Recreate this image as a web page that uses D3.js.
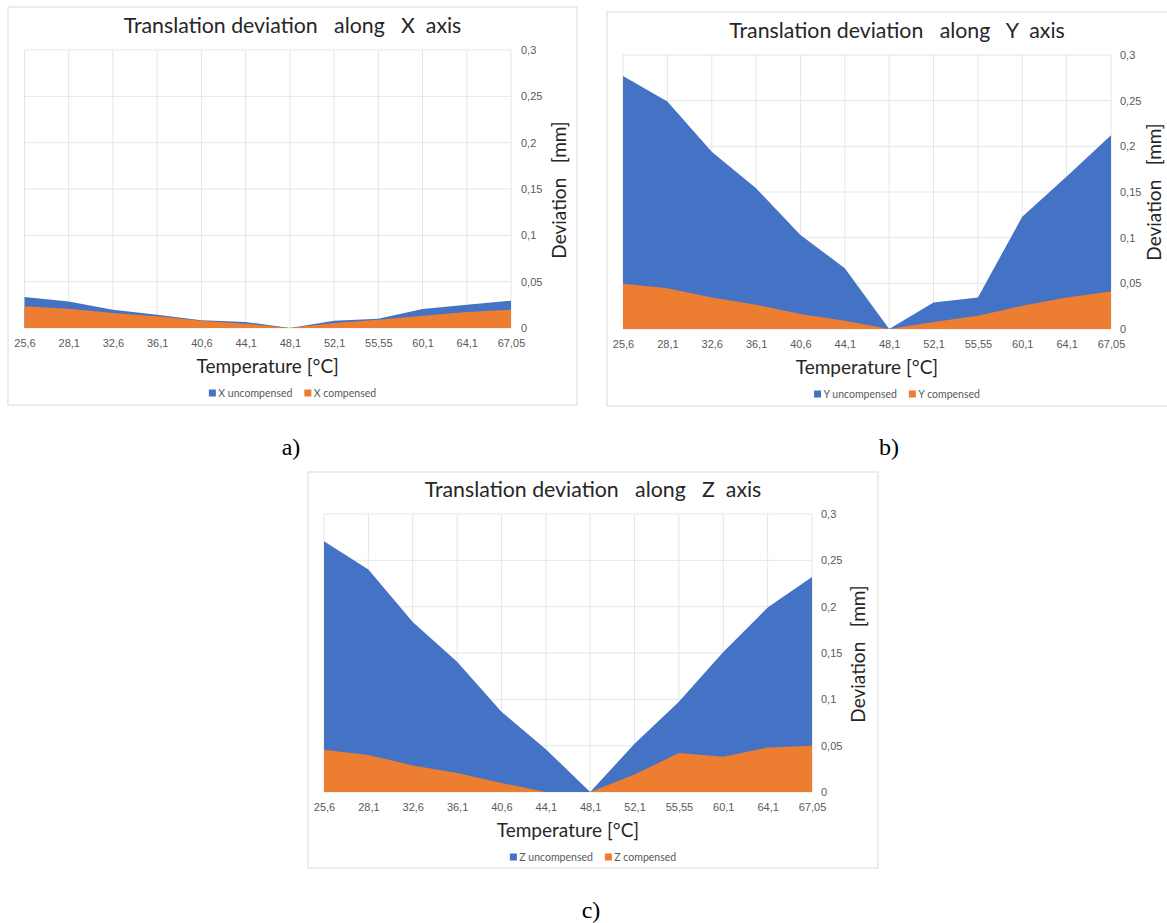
<!DOCTYPE html>
<html><head><meta charset="utf-8">
<script src="https://cdn.jsdelivr.net/npm/d3@7"></script>
<style>
html,body{margin:0;padding:0;background:#fff;}
svg{display:block;font-family:Lato,"Open Sans",sans-serif;}
</style></head>
<body>
<svg id="chart" width="1167" height="923"></svg>
<script>
// ---- data ----
const categories = ["25,6","28,1","32,6","36,1","40,6","44,1","48,1","52,1","55,55","60,1","64,1","67,05"];
const xUncompensed = [0.0334,0.0287,0.0198,0.0144,0.0083,0.0065,0,0.0079,0.0100,0.0205,0.0250,0.0295];
const xCompensed   = [0.0234,0.0208,0.0162,0.0126,0.0079,0.0047,0,0.0054,0.0090,0.0133,0.0172,0.0198];
const yUncompensed = [0.277,0.249,0.194,0.154,0.103,0.0665,0,0.029,0.0345,0.123,0.167,0.212];
const yCompensed   = [0.0495,0.0447,0.0345,0.0265,0.0164,0.009,0,0.0076,0.0145,0.0255,0.0345,0.041];
const zUncompensed = [0.2706,0.240,0.1835,0.1405,0.0867,0.0462,0,0.052,0.0975,0.151,0.199,0.232];
const zCompensed   = [0.0455,0.040,0.0287,0.0204,0.0097,0.0,0,0.019,0.042,0.038,0.048,0.0498];
const yTickValues  = [0,0.05,0.1,0.15,0.2,0.25,0.3];
const panelLetters = ["a)","b)","c)"];

const BLUE = "#4472C4", ORANGE = "#ED7D31";
const svg = d3.select("#chart");
const fmt = v => String(+v.toFixed(2)).replace(".", ",");

function panel(cfg){
  const g = svg.append("g");
  // chart frame
  g.append("rect").attr("x",cfg.fx).attr("y",cfg.fy).attr("width",cfg.fw).attr("height",cfg.fh)
    .attr("fill","#fff").attr("stroke","#d9d9d9").attr("stroke-width",1);
  const x = d3.scalePoint().domain(categories).range([cfg.l,cfg.r]).padding(0);
  const y = d3.scaleLinear().domain([0,0.3]).range([cfg.b,cfg.t]);
  // gridlines
  g.append("g").selectAll("line.h").data(yTickValues).join("line")
    .attr("x1",cfg.l).attr("x2",cfg.r).attr("y1",d=>y(d)).attr("y2",d=>y(d))
    .attr("stroke","#e6e6e6").attr("stroke-width",1);
  g.append("g").selectAll("line.v").data(categories).join("line")
    .attr("x1",d=>x(d)).attr("x2",d=>x(d)).attr("y1",cfg.t).attr("y2",cfg.b)
    .attr("stroke","#e6e6e6").attr("stroke-width",1);
  const area = d3.area().x((d,i)=>x(categories[i])).y0(y(0)).y1(d=>y(d));
  g.append("path").datum(cfg.unc).attr("d",area).attr("fill",BLUE);
  g.append("path").datum(cfg.comp).attr("d",area).attr("fill",ORANGE);
  // x axis labels
  const xa = d3.axisBottom(x).tickSize(0).tickPadding(0);
  const xg = g.append("g").attr("transform",`translate(0,${cfg.tickY})`).call(xa);
  xg.select(".domain").remove();
  xg.selectAll("text").attr("fill","#595959").attr("font-size",11).attr("dy","0.35em").attr("y",0);
  // y axis labels (right)
  const ya = d3.axisRight(y).tickValues(yTickValues).tickFormat(fmt).tickSize(0).tickPadding(0);
  const yg = g.append("g").attr("transform",`translate(${cfg.yTickX},0)`).call(ya);
  yg.select(".domain").remove();
  yg.selectAll("text").attr("fill","#595959").attr("font-size",11).attr("x",0);
  // titles
  g.append("text").attr("x",cfg.fx+cfg.fw/2).attr("y",cfg.titleY).attr("dy","0.35em")
    .attr("text-anchor","middle").attr("font-size",21.3).attr("fill","#262626")
    .attr("xml:space","preserve").text(cfg.title);
  g.append("text").attr("x",(cfg.l+cfg.r)/2).attr("y",cfg.xTitleY).attr("dy","0.35em")
    .attr("text-anchor","middle").attr("font-size",19).attr("fill","#262626").text("Temperature [°C]");
  g.append("text").attr("transform",`translate(${cfg.yTitleX},${cfg.yTitleY}) rotate(-90)`).attr("dy","0.35em")
    .attr("text-anchor","middle").attr("font-size",19).attr("fill","#262626")
    .attr("xml:space","preserve").text("Deviation   [mm]");
  // legend
  const lg = g.append("g");
  const items = [{c:BLUE,t:cfg.axis+" uncompensed"},{c:ORANGE,t:cfg.axis+" compensed"}];
  let cx = 0;
  items.forEach(it=>{
    lg.append("rect").attr("x",cx).attr("y",-3.5).attr("width",7).attr("height",7).attr("fill",it.c);
    const t = lg.append("text").attr("x",cx+9.5).attr("y",0).attr("dy","0.35em").attr("font-size",10.5)
      .attr("fill","#595959").text(it.t);
    cx += 9.5 + t.node().getComputedTextLength() + 12;
  });
  const lw = cx - 12;
  lg.attr("transform",`translate(${cfg.fx+cfg.fw/2-lw/2},${cfg.legendY})`);
  // panel letter
  svg.append("text").attr("x",cfg.letterX).attr("y",cfg.letterY).attr("dy","0.35em").attr("text-anchor","middle")
    .attr("font-family","'Liberation Serif',serif").attr("font-size",24).attr("fill","#000").text(cfg.letter);
}

panel({fx:8,fy:7,fw:569,fh:398,l:24.5,r:511,t:50,b:328,tickY:343,yTickX:521,titleY:26,xTitleY:366,
  yTitleX:559,yTitleY:190,legendY:393,title:"Translation deviation   along   X  axis",axis:"X",
  unc:xUncompensed,comp:xCompensed,letter:panelLetters[0],letterX:291,letterY:447});
panel({fx:607,fy:12,fw:580,fh:394,l:623,r:1111,t:55,b:329,tickY:344,yTickX:1120,titleY:31,xTitleY:367,
  yTitleX:1154,yTitleY:192,legendY:394,title:"Translation deviation   along   Y  axis",axis:"Y",
  unc:yUncompensed,comp:yCompensed,letter:panelLetters[1],letterX:889,letterY:447});
panel({fx:308,fy:472,fw:570,fh:396,l:324,r:812,t:514,b:792,tickY:807,yTickX:821,titleY:490,xTitleY:830,
  yTitleX:858,yTitleY:654,legendY:857,title:"Translation deviation   along   Z  axis",axis:"Z",
  unc:zUncompensed,comp:zCompensed,letter:panelLetters[2],letterX:591,letterY:910});
</script>
</body></html>
